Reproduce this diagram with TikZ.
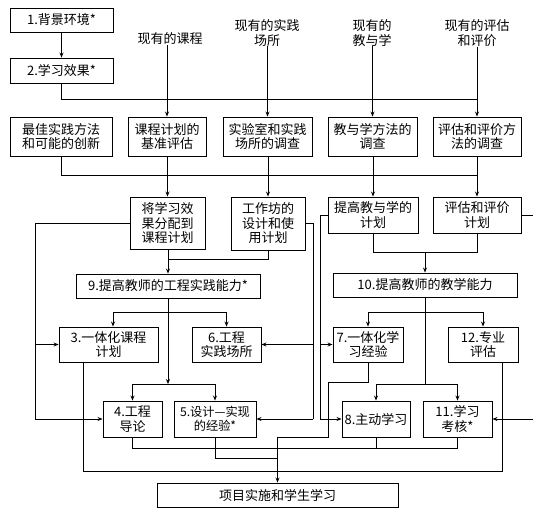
\documentclass[tikz,border=0pt]{standalone}
\usepackage{fontspec}
\setmainfont{Noto Sans CJK SC}
\usetikzlibrary{arrows.meta}
\begin{document}
\begin{tikzpicture}[x=1pt,y=-1pt,
  box/.style={draw,line width=0.9pt,inner sep=0pt,align=center,font=\fontsize{13}{14.5}\selectfont},
  lbl/.style={inner sep=0pt,align=center,font=\fontsize{13}{14.5}\selectfont},
  ln/.style={line width=0.8pt},
  arr/.style={line width=0.8pt,-{Stealth[length=5pt,width=4pt]}}]
\useasboundingbox (0,0) rectangle (537,511);
% top
\node[box,minimum width=103pt,minimum height=24pt] (b1) at (61.5,20) {1.背景环境*};
\node[box,minimum width=103pt,minimum height=25pt] (b2) at (61.5,70.5) {2.学习效果*};
\node[lbl] (L1) at (170,39) {现有的课程};
\node[lbl] (L2) at (267,33) {现有的实践\\场所};
\node[lbl] (L3) at (372,33) {现有的\\教与学};
\node[lbl] (L4) at (477,33) {现有的评估\\和评价};
% row 2
\node[box,minimum width=102pt,minimum height=39pt] (r1) at (61,136.5) {最佳实践方法\\和可能的创新};
\node[box,minimum width=78pt,minimum height=39pt] (r2) at (167,136.5) {课程计划的\\基准评估};
\node[box,minimum width=89pt,minimum height=39pt] (r3) at (267.5,136.5) {实验室和实践\\场所的调查};
\node[box,minimum width=89pt,minimum height=39pt] (r4) at (372.5,136.5) {教与学方法的\\调查};
\node[box,minimum width=88pt,minimum height=39pt] (r5) at (477,136.5) {评估和评价方\\法的调查};
% row 3
\node[box,minimum width=75pt,minimum height=52pt] (s1) at (167.5,223) {将学习效\\果分配到\\课程计划};
\node[box,minimum width=74pt,minimum height=53pt] (s2) at (268,223.5) {工作坊的\\设计和使\\用计划};
\node[box,minimum width=90pt,minimum height=36pt] (s3) at (373,215) {提高教与学的\\计划};
\node[box,minimum width=88pt,minimum height=36pt] (s4) at (477,215) {评估和评价\\计划};
% row 4
\node[box,minimum width=184pt,minimum height=24pt] (n9) at (168,286) {9.提高教师的工程实践能力*};
\node[box,minimum width=184pt,minimum height=24pt] (n10) at (425,285) {10.提高教师的教学能力};
% row 5
\node[box,minimum width=99pt,minimum height=35pt] (n3) at (108.5,344.5) {3.一体化课程\\计划};
\node[box,minimum width=69pt,minimum height=35pt] (n6) at (226.5,344.5) {6.工程\\实践场所};
\node[box,minimum width=70pt,minimum height=35pt] (n7) at (368,344.5) {7.一体化学\\习经验};
\node[box,minimum width=70pt,minimum height=35pt] (n12) at (483,344.5) {12.专业\\评估};
% row 6
\node[box,minimum width=59pt,minimum height=36pt] (n4) at (132.5,419) {4.工程\\导论};
\node[box,minimum width=82pt,minimum height=36pt,font=\fontsize{12.2}{14.5}\selectfont] (n5) at (215,419) {5.设计—实现\\的经验*};
\node[box,minimum width=68pt,minimum height=36pt] (n8) at (376,419) {8.主动学习};
\node[box,minimum width=69pt,minimum height=36pt] (n11) at (457.5,419) {11.学习\\考核*};
% final
\node[box,minimum width=241pt,minimum height=24pt] (fin) at (277.5,495) {项目实施和学生学习};
% helper coordinates
\coordinate (y99) at (0,99);
\coordinate (y175) at (0,175);
\coordinate (y252) at (0,252);
\coordinate (y259) at (0,259);
\coordinate (y312) at (0,312);
\coordinate (y382) at (0,382);
\coordinate (y384) at (0,384);
\coordinate (y437) at (0,437);
\coordinate (y448) at (0,448);
\coordinate (y458) at (0,458);
\coordinate (y471) at (0,471);
\coordinate (x35) at (35,0);
\coordinate (x83) at (83,0);
\coordinate (x113) at (113,0);
\coordinate (x313) at (313,0);
\coordinate (x320) at (320,0);
\coordinate (x328) at (328,0);
\coordinate (x502) at (502,0);
\coordinate (x533) at (533,0);
% top connectors
\draw[arr] (b1.south) -- (b2.north);
\draw[ln] (b2.south) |- (r5.north |- y99);
\foreach \l/\r in {L1/r2,L2/r3,L3/r4,L4/r5} \draw[arr] (\r.north |- \l.south) -- (\r.north);
% bus 2
\draw[ln] (r1.south) |- (r5.south |- y175);
\foreach \a/\b in {r2/s1,r3/s2,r4/s3,r5/s4} \draw[arr] (\b.north |- \a.south) -- (\b.north);
% to row 4
\draw[arr] (n9.north |- s1.south) -- (n9.north);
\draw[ln] (s2.south) |- (n9.north |- y259);
\draw[ln] (s3.south) |- (s4.south |- y252) -- (s4.south);
\draw[arr] (n10.north |- y252) -- (n10.north);
% side feeds
\draw[ln] (s1.west) -| (x35 |- n4.west);
\draw[arr] (x35 |- n4.west) -- (n4.west);
\draw[arr] (x35 |- n3.west) -- (n3.west);
\draw[ln] (s2.east) -| (x313 |- n5.east);
\draw[arr] (x313 |- n5.east) -- (n5.east);
\draw[arr] (x313 |- n6.east) -- (n6.east);
\draw[ln] (s3.west) -| (x320 |- n8.west);
\draw[arr] (x320 |- n8.west) -- (n8.west);
\draw[arr] (x320 |- n7.west) -- (n7.west);
\draw[ln] (s4.east) -- (x533 |- s4.east);
\draw[arr] (x533 |- n11.east) -- (n11.east);
% n9 distribution
\draw[ln] (n9.south) -- (n9.south |- y312);
\draw[arr] (n6.north |- y312) -| (x113 |- n3.north);
\draw[arr] (n6.north |- y312) -- (n6.north);
\draw[arr] (n9.south |- y312) -- (n9.south |- y384);
\draw[arr] (n5.north |- y384) -| (n4.north);
\draw[arr] (n5.north |- y384) -- (n5.north);
% n10 distribution
\draw[ln] (n10.south) -- (n10.south |- y384);
\draw[arr] (n12.north |- y312) -| (n7.north);
\draw[arr] (n12.north |- y312) -- (n12.north);
\draw[arr] (n11.north |- y384) -| (n8.north);
\draw[arr] (n11.north |- y384) -- (n11.north);
% bottom
\draw[ln] (x83 |- n3.south) |- (x502 |- y471) -- (x502 |- n12.south);
\draw[ln] (n4.south) |- (n11.south |- y448) -- (n11.south);
\draw[ln] (n8.south) -- (n8.south |- y448);
\draw[ln] (n5.south) |- (fin.north |- y458);
\draw[arr] (n7.south) |- (x328 |- y382) |- (fin.north |- y437) -- (fin.north);
\end{tikzpicture}
\end{document}
